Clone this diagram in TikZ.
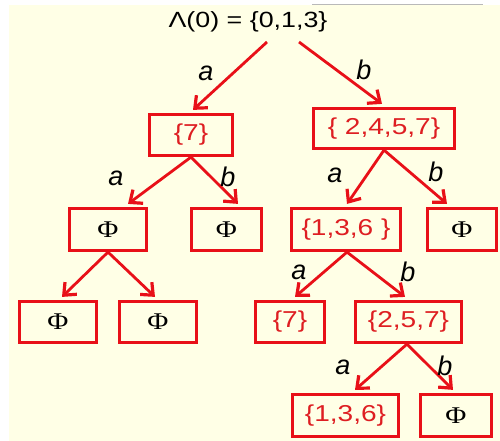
\documentclass[tikz,border=0pt]{standalone}
\usepackage{fontspec}
\setmainfont{Liberation Sans}
\newfontfamily\setfont[FakeStretch=1.22]{Liberation Sans}
\newfontfamily\phifont[FakeStretch=1.2]{Liberation Serif}
\usetikzlibrary{arrows.meta}
\definecolor{cream}{RGB}{255,255,230}
\definecolor{boxred}{RGB}{232,16,24}
\definecolor{txtred}{RGB}{222,30,34}
\tikzset{
  setbox/.style={draw=boxred, line width=3.2pt, inner sep=0pt, text=txtred,
    font=\setfont\fontsize{23}{23}\selectfont},
  emptybox/.style={setbox, text=black, font=\phifont\fontsize{24}{24}\selectfont},
  edge/.style={draw=boxred, line width=2.8pt,
    -{Straight Barb[length=10pt,width=17pt,line width=3.2pt]}},
  lbl/.style={inner sep=0pt, font=\itshape\fontsize{27}{27}\selectfont},
}
\begin{document}
\begin{tikzpicture}[x=1pt,y=-1pt]
  \useasboundingbox (0,0) rectangle (500,441);
  \fill[cream] (9,5) rectangle (500,441);
  \draw[gray!55, line width=1pt] (312,5) -- (483,5);

  % root set
  \node[inner sep=0pt, font=\setfont\fontsize{22}{22}\selectfont] (root) at (248,22) {Λ(0) = \{0,1,3\}};

  % level 1
  \node[setbox, minimum width=83pt, minimum height=41pt] (n7) at (191,135) {\{7\}};
  \node[setbox, minimum width=141pt, minimum height=40pt] (n2457) at (384,128.5) {\{ 2,4,5,7\}};

  % level 2
  \node[emptybox, minimum width=77pt, minimum height=42pt] (p1) at (108,229.5) {Φ};
  \node[emptybox, minimum width=70pt, minimum height=42pt] (p2) at (226.5,229.5) {Φ};
  \node[setbox, minimum width=109pt, minimum height=42pt] (n136) at (346,229.5) {\{1,3,6 \}};
  \node[emptybox, minimum width=69pt, minimum height=42pt] (p3) at (462,229.5) {Φ};

  % level 3
  \node[emptybox, minimum width=77pt, minimum height=41pt] (p4) at (58,322) {Φ};
  \node[emptybox, minimum width=77pt, minimum height=41pt] (p5) at (158,322) {Φ};
  \node[setbox, minimum width=69pt, minimum height=41pt] (n7b) at (290,322) {\{7\}};
  \node[setbox, minimum width=106pt, minimum height=41pt] (n257) at (408.5,322) {\{2,5,7\}};

  % level 4
  \node[setbox, minimum width=106pt, minimum height=42pt] (n136b) at (345.5,415.5) {\{1,3,6\}};
  \node[emptybox, minimum width=71pt, minimum height=42pt] (p6) at (456,415.5) {Φ};

  % transitions
  \draw[edge] ([shift={(19,20)}]root.center) -- ([shift={(2,-3)}]n7.north);
  \draw[edge] ([shift={(51,20)}]root.center) -- ([shift={(-2,-3)}]n2457.north);
  \draw[edge] (n7.south) -- ([shift={(20,-3)}]p1.north);
  \draw[edge] (n7.south) -- ([shift={(11.5,-3)}]p2.north);
  \draw[edge] (n2457.south) -- ([shift={(1,-3)}]n136.north);
  \draw[edge] (n2457.south) -- ([shift={(-15,-3)}]p3.north);
  \draw[edge] (p1.south) -- ([shift={(4,-3)}]p4.north);
  \draw[edge] (p1.south) -- ([shift={(-3,-3)}]p5.north);
  \draw[edge] ([xshift=1pt]n136.south) -- ([shift={(5,-3)}]n7b.north);
  \draw[edge] ([xshift=1pt]n136.south) -- ([shift={(-3.5,-3)}]n257.north);
  \draw[edge] ([xshift=-1.5pt]n257.south) -- ([shift={(9.5,-3)}]n136b.north);
  \draw[edge] ([xshift=-1.5pt]n257.south) -- ([shift={(-3,-3)}]p6.north);

  % input symbols
  \node[lbl] (la1) at (206,73) {a};
  \node[lbl] (lb1) at (364,70) {b};
  \node[lbl] (la2) at (116,178) {a};
  \node[lbl] (lb2) at (228,177) {b};
  \node[lbl] (la3) at (335,175) {a};
  \node[lbl] (lb3) at (436,172) {b};
  \node[lbl] (la4) at (299,272) {a};
  \node[lbl] (lb4) at (408,272) {b};
  \node[lbl] (la5) at (343,367) {a};
  \node[lbl] (lb5) at (445,366) {b};
\end{tikzpicture}
\end{document}
